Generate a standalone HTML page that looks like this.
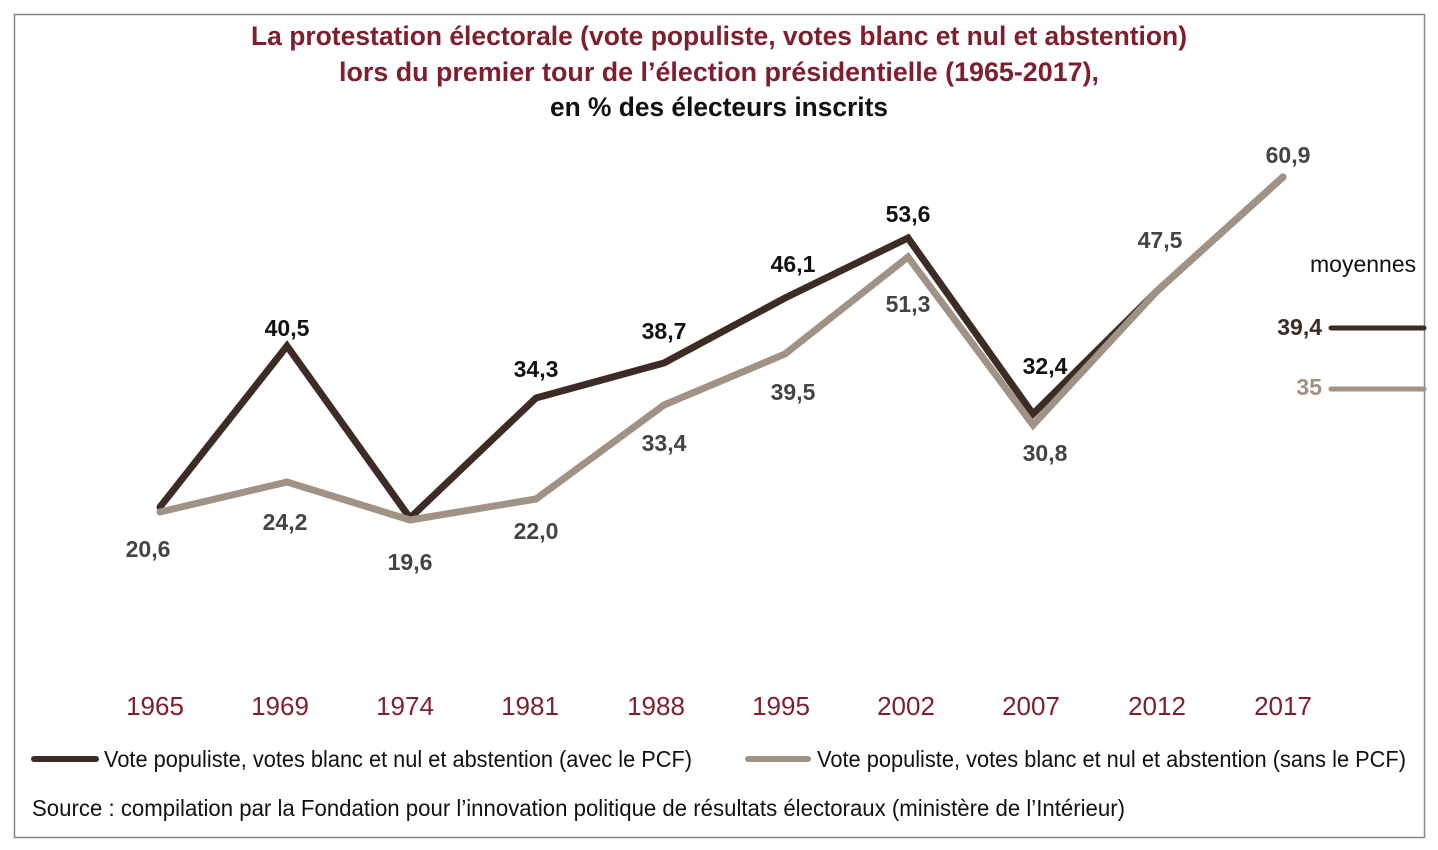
<!DOCTYPE html>
<html><head><meta charset="utf-8"><style>
html,body{margin:0;padding:0;background:#fff;width:1438px;height:850px;overflow:hidden}
svg{display:block}
text{font-family:"Liberation Sans Narrow","Liberation Sans",sans-serif}
.t{fill:#7d1f2e;font-weight:bold;font-size:27px}
.v{fill:#444;font-weight:bold;font-size:23px}
.d{fill:#111;font-weight:bold;font-size:23px}
.y{fill:#7d1f2e;font-size:26px}
.l{fill:#111;font-size:23px}
</style></head><body>
<svg width="1438" height="850" viewBox="0 0 1438 850">
<rect x="14.5" y="14.5" width="1410" height="823" fill="none" stroke="#888" stroke-width="1.5"/>
<text class="t" x="719" y="45" text-anchor="middle" textLength="936" lengthAdjust="spacingAndGlyphs">La protestation électorale (vote populiste, votes blanc et nul et abstention)</text>
<text class="t" x="719" y="81" text-anchor="middle" textLength="760" lengthAdjust="spacingAndGlyphs">lors du premier tour de l’élection présidentielle (1965-2017),</text>
<text class="t" x="719" y="116" text-anchor="middle" style="fill:#111" textLength="338" lengthAdjust="spacingAndGlyphs">en % des électeurs inscrits</text>
<g fill="none" stroke-width="7" stroke-linecap="round" stroke-linejoin="miter">
<polyline stroke="#3d2b25" points="160,507 287,346 410,518 536,398 664,363 785,298 908,238 1033,414 1158,290 1283,177"/>
<polyline stroke="#a09285" points="160,512 287,482 410,520 536,499 664,405 785,354 908,257 1033,425 1158,290 1283,177"/>
<line x1="1331" y1="328" x2="1424" y2="328" stroke="#3d2b25" stroke-width="5"/>
<line x1="1331" y1="389" x2="1424" y2="389" stroke="#a09285" stroke-width="5"/>
</g>
<g text-anchor="middle">
<text class="d" x="287" y="336">40,5</text>
<text class="d" x="536" y="377">34,3</text>
<text class="d" x="664" y="339">38,7</text>
<text class="d" x="793" y="272">46,1</text>
<text class="d" x="908" y="222">53,6</text>
<text class="d" x="1045" y="374">32,4</text>
<text class="v" x="148" y="557">20,6</text>
<text class="v" x="285" y="530">24,2</text>
<text class="v" x="410" y="570">19,6</text>
<text class="v" x="536" y="539">22,0</text>
<text class="v" x="664" y="451">33,4</text>
<text class="v" x="793" y="400">39,5</text>
<text class="v" x="908" y="312">51,3</text>
<text class="v" x="1045" y="461">30,8</text>
<text class="v" x="1160" y="248">47,5</text>
<text class="v" x="1288" y="163">60,9</text>
<text class="y" x="155" y="715">1965</text>
<text class="y" x="280" y="715">1969</text>
<text class="y" x="405" y="715">1974</text>
<text class="y" x="530" y="715">1981</text>
<text class="y" x="656" y="715">1988</text>
<text class="y" x="781" y="715">1995</text>
<text class="y" x="906" y="715">2002</text>
<text class="y" x="1031" y="715">2007</text>
<text class="y" x="1157" y="715">2012</text>
<text class="y" x="1283" y="715">2017</text>
</g>
<text class="l" x="1310" y="272">moyennes</text>
<text class="d" x="1322" y="335" text-anchor="end" style="fill:#3d2b25">39,4</text>
<text class="d" x="1322" y="395" text-anchor="end" style="fill:#a09285">35</text>
<line x1="34" y1="759" x2="96" y2="759" stroke="#3d2b25" stroke-width="6" stroke-linecap="round"/>
<text class="l" x="104" y="767" textLength="588" lengthAdjust="spacingAndGlyphs">Vote populiste, votes blanc et nul et abstention (avec le PCF)</text>
<line x1="748" y1="759" x2="808" y2="759" stroke="#a09285" stroke-width="6" stroke-linecap="round"/>
<text class="l" x="817" y="767" textLength="589" lengthAdjust="spacingAndGlyphs">Vote populiste, votes blanc et nul et abstention (sans le PCF)</text>
<text class="l" x="32" y="816" textLength="1093" lengthAdjust="spacingAndGlyphs">Source : compilation par la Fondation pour l’innovation politique de résultats électoraux (ministère de l’Intérieur)</text>
</svg>
</body></html>
